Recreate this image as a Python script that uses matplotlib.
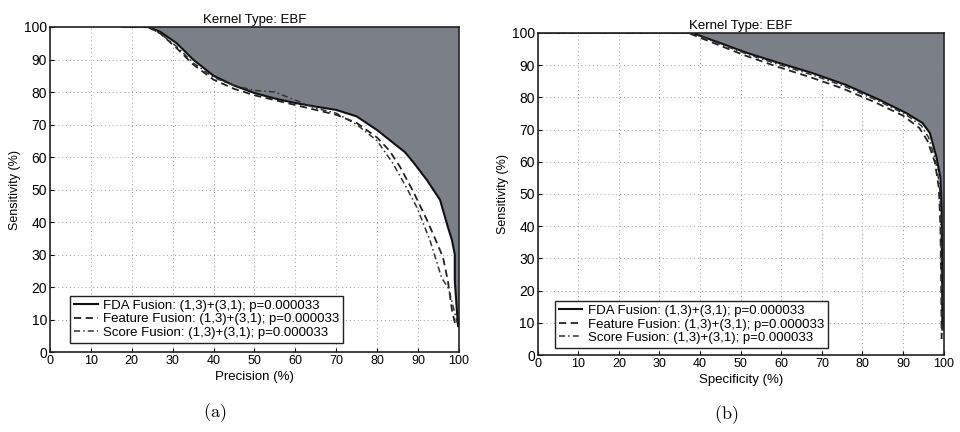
import numpy as np
import matplotlib
matplotlib.use("Agg")
import matplotlib.pyplot as plt

plt.rcParams['font.family'] = ['Liberation Sans', 'DejaVu Sans']
plt.rcParams['mathtext.fontset'] = 'cm'

# ---- panel (a): precision vs sensitivity ----
prec_fda_x = [18, 24, 27, 31, 35, 40, 45, 50, 55, 60, 65, 70, 75, 80, 84, 86.8,
              88.8, 92.2, 95.4, 97.3, 98.3, 99, 99, 99.5, 99.8]
prec_fda_y = [100, 100, 98.5, 95, 90, 85, 82, 79.7, 78, 76.6, 75.5, 74.5, 72.5, 68.3,
              64.3, 61.5, 58.5, 52.9, 46.8, 38.5, 34.5, 30, 22, 13, 8]

prec_feat_x = [18, 24, 27, 31, 35, 40, 45, 50, 55, 60, 65, 70, 75, 80, 83, 85.6, 89,
               92.2, 94.5, 96.1, 97.3, 98.3, 99.2]
prec_feat_y = [100, 100, 98, 93.5, 88.5, 83.8, 81, 79, 77.5, 76, 74.5, 73, 70.5, 66, 62,
               57, 49, 40.6, 34, 29.2, 22, 13, 8]

prec_score_x = [18, 24, 27, 31, 35, 40, 45, 50, 55, 58, 62, 65, 70, 75, 80, 83.9, 87,
                89.7, 92.9, 95.8, 97.5, 99, 99.6]
prec_score_y = [100, 100, 98, 94, 89, 84.5, 82, 80.5, 80, 78.5, 76.5, 75, 73.5, 70, 65,
                58, 51, 44.6, 34.5, 22.8, 19.5, 12, 9]

# ---- panel (b): specificity vs sensitivity ----
spec_fda_x = [0, 38, 44.8, 51.5, 59.6, 67.7, 76, 84.2, 90.8, 94.8, 96.6, 98.2, 99.2,
              99.5, 99.6, 99.7]
spec_fda_y = [100, 100, 96.9, 93.8, 90.6, 87.5, 83.8, 79.2, 75.1, 72, 68.9, 61.5, 55,
              45, 25, 8]

spec_feat_x = [0, 37, 44, 51, 59, 67, 75, 83, 90, 94, 96, 97.8, 98.8, 99.2, 99.4, 99.5]
spec_feat_y = [100, 100, 96.5, 93, 89.5, 86.3, 82.8, 78.5, 74.3, 70.5, 66.5, 60, 52,
               40, 20, 5]

spec_score_x = [0, 38, 45, 52, 60, 68, 76, 84, 90.5, 94.5, 96.3, 98, 99, 99.3, 99.5, 99.6]
spec_score_y = [100, 100, 96.5, 93.2, 89.9, 86.8, 83.2, 78.8, 74.8, 71.2, 67.5, 60.5,
                52.5, 42, 22, 6]

legend_labels = ["FDA Fusion: (1,3)+(3,1); p=0.000033",
                 "Feature Fusion: (1,3)+(3,1); p=0.000033",
                 "Score Fusion: (1,3)+(3,1); p=0.000033"]
ticks = np.arange(0, 101, 10)

fill_color = '#7b8088'


def draw_panel(ax, curves, xlabel, legend_anchor):
    fx, fy = curves[0]
    # shaded area above the FDA curve
    ax.fill(np.r_[fx, 100, 100], np.r_[fy, fy[-1], 100], color=fill_color, lw=0, zorder=1)

    styles = [dict(ls='-', lw=1.5, color='#111111'),
              dict(ls=(0, (4, 2.5)), lw=1.3, color='#222222'),
              dict(ls=(0, (4, 2, 1, 2)), lw=1.1, color='#333333')]
    handles = []
    for (x, y), st, lab in zip(curves, styles, legend_labels):
        h, = ax.plot(x, y, label=lab, zorder=3, **st)
        handles.append(h)

    ax.set_xlim(0, 100)
    ax.set_ylim(0, 100)
    ax.set_xticks(ticks)
    ax.set_yticks(ticks)
    ax.grid(True, ls=(0, (1, 3)), color='#999999', lw=0.7, zorder=0)
    ax.set_axisbelow(True)
    ax.tick_params(direction='in', length=3, width=0.8, pad=2, top=False, right=False)
    ax.tick_params(axis='x', labelsize=9)
    ax.tick_params(axis='y', labelsize=10)
    for sp in ax.spines.values():
        sp.set_linewidth(1.2)
        sp.set_color('#222222')
    ax.set_title("Kernel Type: EBF", fontsize=9.5, pad=3)
    ax.set_xlabel(xlabel, fontsize=9.5, labelpad=3)
    ax.set_ylabel("Sensitivity (%)", fontsize=9, labelpad=2)
    leg = ax.legend(handles=handles, loc='lower left', bbox_to_anchor=legend_anchor,
                    fontsize=9.5, frameon=True, fancybox=False, handlelength=1.8,
                    handletextpad=0.4, borderpad=0.3, labelspacing=0.1,
                    borderaxespad=0)
    leg.get_frame().set_edgecolor('#222222')
    leg.get_frame().set_linewidth(1.0)
    leg.get_frame().set_alpha(1)
    leg.set_zorder(5)


fig = plt.figure(figsize=(9.6, 4.32), dpi=100)
ax_a = fig.add_axes([0.052, 0.185, 0.426, 0.7525])
ax_b = fig.add_axes([0.560, 0.178, 0.423, 0.746])

draw_panel(ax_a, [(prec_fda_x, prec_fda_y), (prec_feat_x, prec_feat_y),
                  (prec_score_x, prec_score_y)], "Precision (%)", (0.049, 0.028))
draw_panel(ax_b, [(spec_fda_x, spec_fda_y), (spec_feat_x, spec_feat_y),
                  (spec_score_x, spec_score_y)], "Specificity (%)", (0.042, 0.022))

fig.text(0.224, 0.045, r"$\mathrm{(a)}$", fontsize=13, ha='center', va='center')
fig.text(0.756, 0.04, r"$\mathrm{(b)}$", fontsize=13, ha='center', va='center')

fig.savefig("out.png", dpi=100)
